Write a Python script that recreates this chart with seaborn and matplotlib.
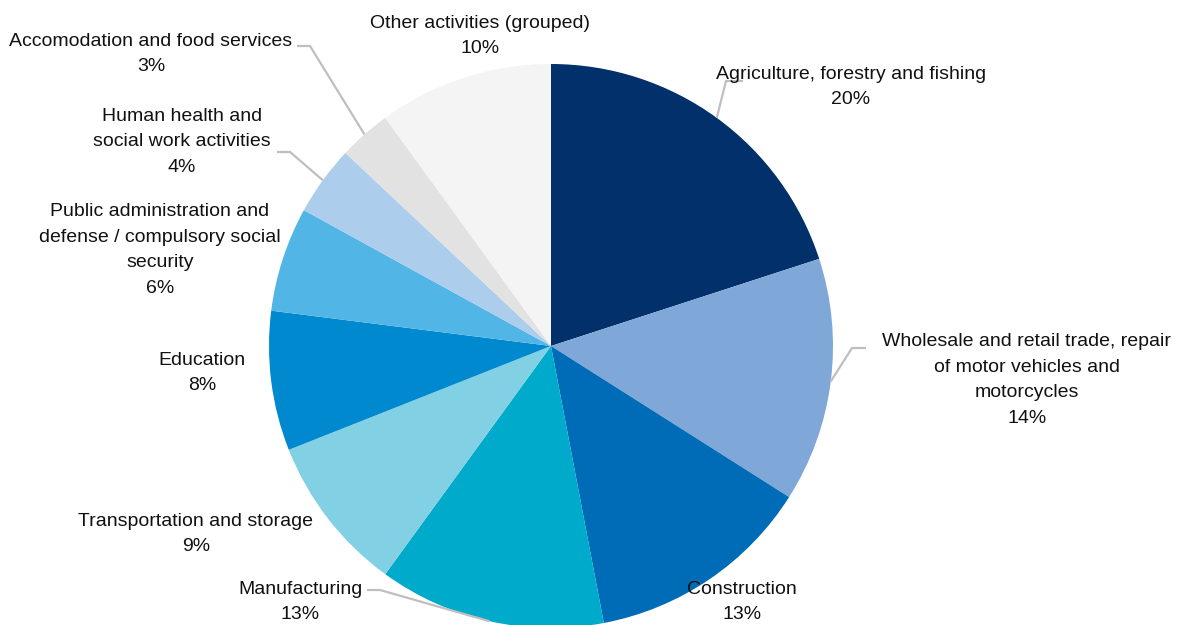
import numpy as np
import matplotlib
matplotlib.use("Agg")
import matplotlib.pyplot as plt
import seaborn as sns

# Employment share by economic activity (%)
sectors = [
    "Agriculture, forestry and fishing",
    "Wholesale and retail trade, repair\nof motor vehicles and\nmotorcycles",
    "Construction",
    "Manufacturing",
    "Transportation and storage",
    "Education",
    "Public administration and\ndefense / compulsory social\nsecurity",
    "Human health and\nsocial work activities",
    "Accomodation and food services",
    "Other activities (grouped)",
]
shares = [20, 14, 13, 13, 9, 8, 6, 4, 3, 10]
colors = ["#02306A", "#7FA8D8", "#006CB7", "#00AACB", "#82D0E3",
          "#0089CF", "#51B5E6", "#ADCDEC", "#E2E2E2", "#F4F4F4"]

sns.set_theme(style="white")
plt.rcParams["font.family"] = ["Liberation Sans Narrow", "Liberation Sans", "DejaVu Sans"]

W, H = 1185, 625
fig = plt.figure(figsize=(W / 100, H / 100), dpi=100)
ax = fig.add_axes([0, 0, 1, 1])

cx, cy, r = 551, H - 346, 282
wedges, _ = ax.pie(shares, colors=colors, startangle=90, counterclock=False,
                   center=(cx, cy), radius=r, frame=True,
                   wedgeprops=dict(linewidth=0))
ax.set_xlim(0, W)
ax.set_ylim(0, H)
ax.set_aspect("equal")
ax.axis("off")

# label block centres (x, y measured from the top) and optional leader elbows
label_pos = [
    (851, 87), (1027, 380), (742, 602), (300, 602), (196, 534),
    (202, 373), (160, 250), (182, 142), (151, 54), (480, 36),
]
leaders = {
    0: [(726, 81), (743, 81)],
    1: [(852, 348), (866, 348)],
    3: [(380, 590), (367, 590)],
    7: [(290, 152), (277, 152)],
    8: [(310, 46), (297, 46)],
}

for i, (name, val) in enumerate(zip(sectors, shares)):
    x, y = label_pos[i]
    ax.text(x, H - y, f"{name}\n{val}%", ha="center", va="center",
            fontsize=14, color="#111111", linespacing=1.65, zorder=5)
    if i in leaders:
        w = wedges[i]
        mid = np.deg2rad((w.theta1 + w.theta2) / 2)
        ax_pt = (cx + r * np.cos(mid), cy + r * np.sin(mid))
        pts = [ax_pt] + [(px, H - py) for px, py in leaders[i]]
        xs, ys = zip(*pts)
        ax.plot(xs, ys, color="#BFBFBF", lw=1.6, solid_capstyle="butt", zorder=4)

fig.savefig("out.png", dpi=100)
